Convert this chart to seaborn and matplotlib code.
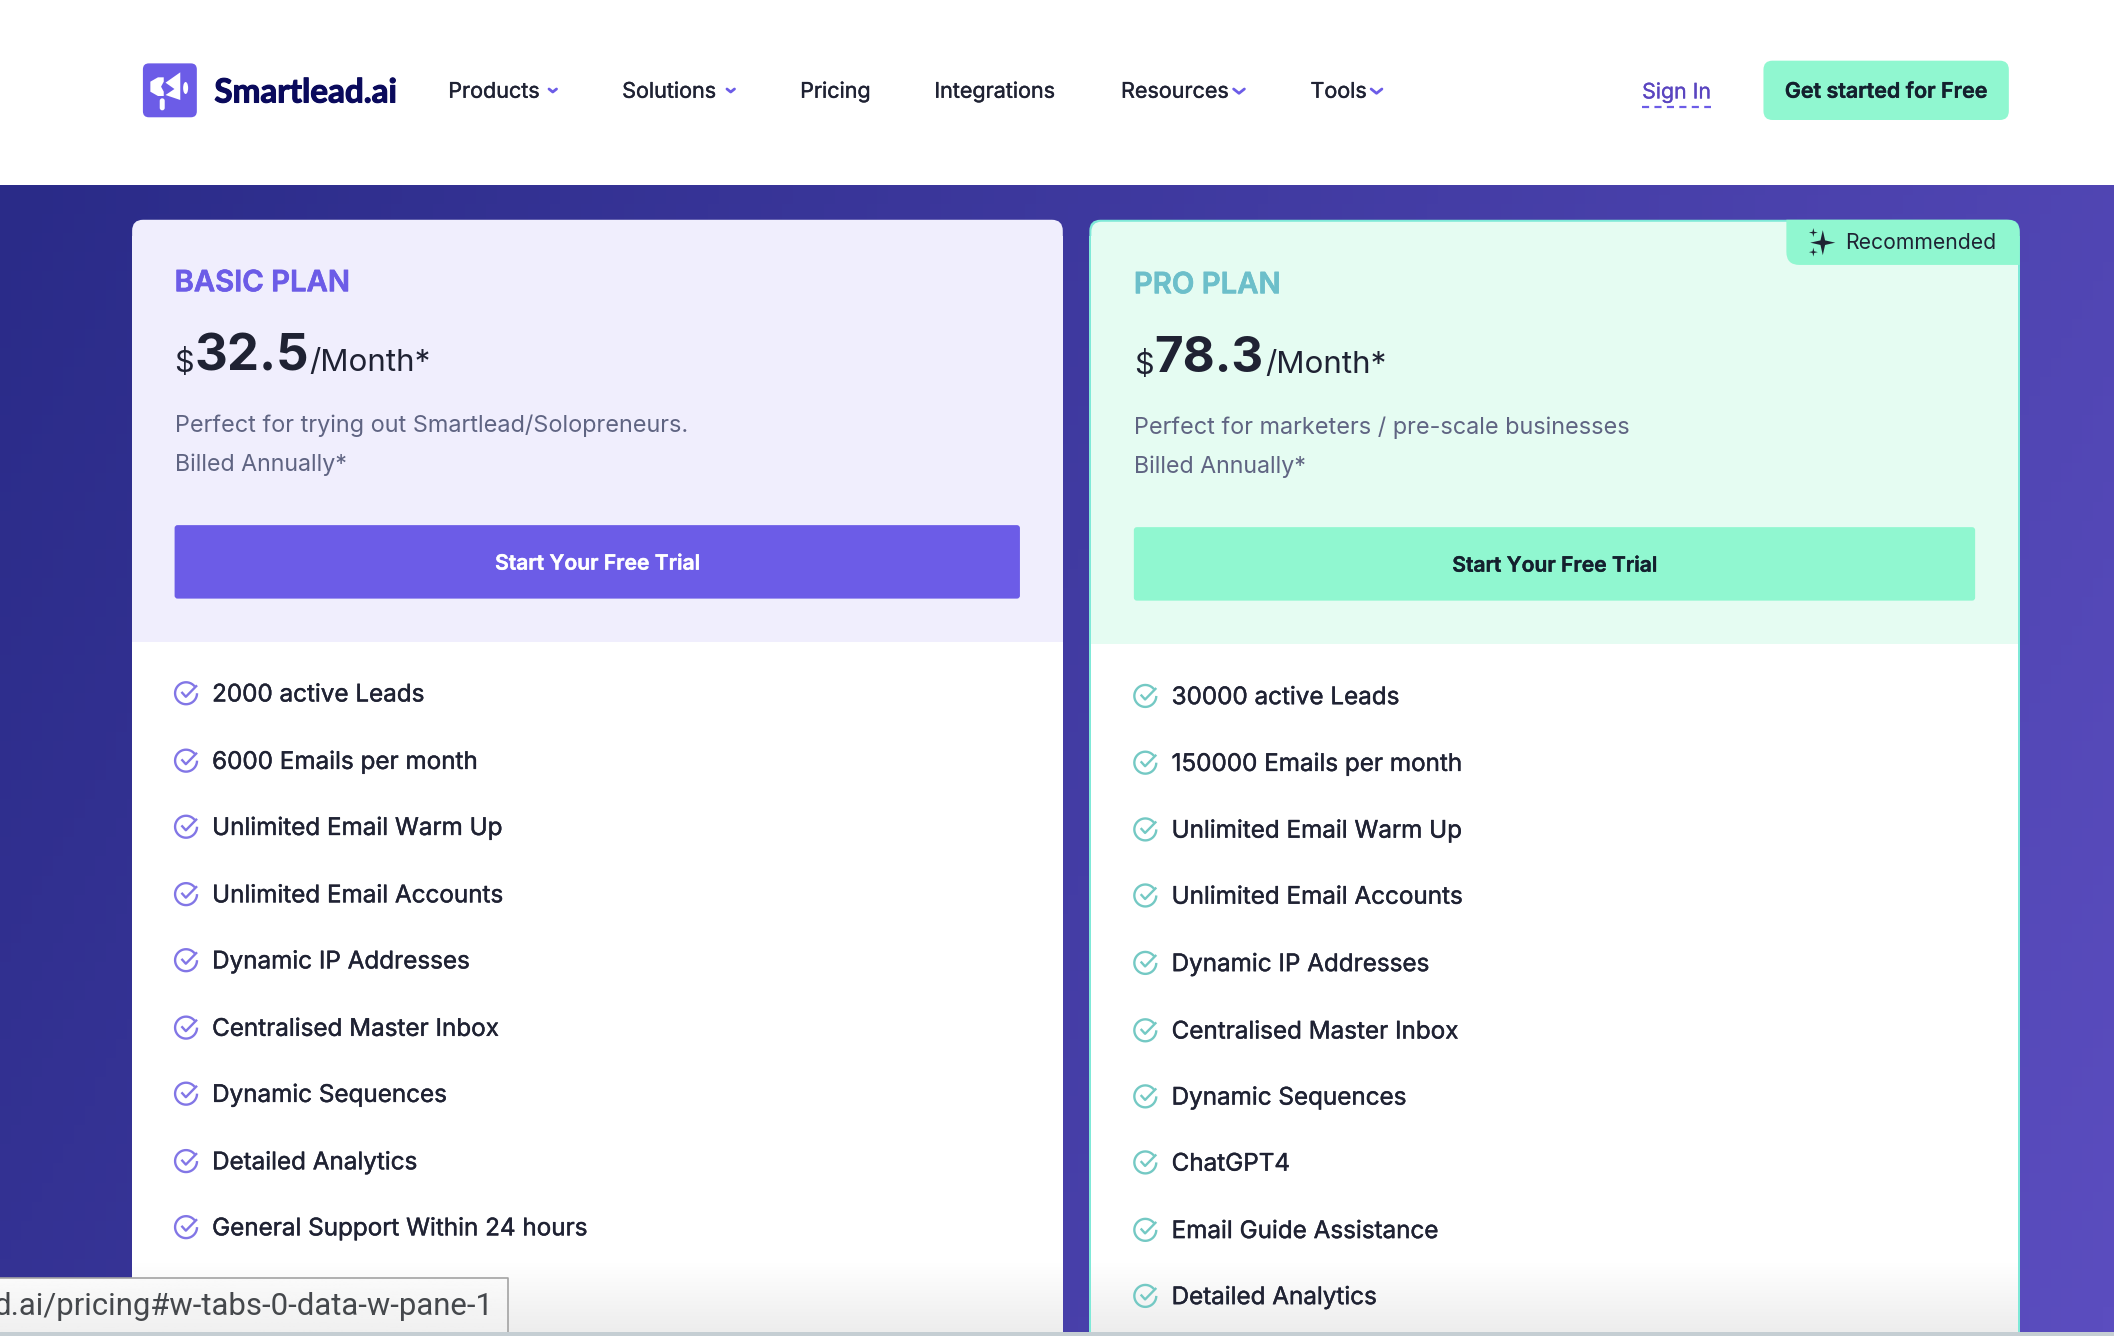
import numpy as np
import pandas as pd
import seaborn as sns
import matplotlib
matplotlib.use("Agg")
import matplotlib.pyplot as plt
from matplotlib.patches import FancyBboxPatch, Rectangle, Polygon, Ellipse, PathPatch
from matplotlib.path import Path
from matplotlib.colors import LinearSegmentedColormap
from matplotlib.markers import MarkerStyle
import matplotlib.patheffects as pe

# ---- content ----
nav_labels = ["Products", "Solutions", "Pricing", "Integrations", "Resources", "Tools"]
nav_x = [332.5, 461.5, 593.5, 693, 831.5, 972]
nav_chevrons = [410, 542, 919, 1021]
plan_names = ["BASIC PLAN", "PRO PLAN"]
plan_prices = ["32.5", "78.3"]
plan_desc = ["Perfect for trying out Smartlead/Solopreneurs.", "Perfect for marketers / pre-scale businesses"]
basic_features = ["2000 active Leads", "6000 Emails per month", "Unlimited Email Warm Up",
                  "Unlimited Email Accounts", "Dynamic IP Addresses", "Centralised Master Inbox",
                  "Dynamic Sequences", "Detailed Analytics", "General Support Within 24 hours"]
pro_features = ["30000 active Leads", "150000 Emails per month", "Unlimited Email Warm Up",
                "Unlimited Email Accounts", "Dynamic IP Addresses", "Centralised Master Inbox",
                "Dynamic Sequences", "ChatGPT4", "Email Guide Assistance", "Detailed Analytics"]
basic_rows = [514, 564, 613, 663, 712, 762, 811, 861, 910]
pro_rows = [516, 565.5, 615, 664, 714, 764, 813, 862, 912, 961]

S = 2114 / 1568
PURPLE = "#6c5ce7"; MINT = "#90f7d0"; INK = "#1f2233"; GREY = "#5f6482"; TEAL = "#6cbfca"

sns.set_theme(style="white")
plt.rcParams["font.family"] = ["Inter", "DejaVu Sans"]

fig = plt.figure(figsize=(21.14, 13.36), dpi=100)
ax = fig.add_axes([0, 0, 1, 1])
ax.set_xlim(0, 2114); ax.set_ylim(1336, 0); ax.axis("off")

def rect(x0, y0, x1, y1, color, z=1, r=0, **kw):
    if r:
        p = FancyBboxPatch((x0 * S + r, y0 * S + r), (x1 - x0) * S - 2 * r, (y1 - y0) * S - 2 * r,
                           boxstyle=f"round,pad={r},rounding_size={r}", fc=color, ec="none", zorder=z, **kw)
    else:
        p = Rectangle((x0 * S, y0 * S), (x1 - x0) * S, (y1 - y0) * S, fc=color, ec="none", zorder=z, **kw)
    ax.add_patch(p)
    return p

def label(x, y, s, size, color=INK, weight="normal", ha="left", width=None, z=6, family=None, stroke=0):
    t = ax.text(x * S, y * S, s, fontsize=size, color=color, fontweight=weight, ha=ha, va="baseline", zorder=z)
    if family:
        t.set_fontfamily(family)
    if stroke:
        t.set_path_effects([pe.withStroke(linewidth=stroke, foreground=color)])
    if width:
        w = t.get_window_extent(fig.canvas.get_renderer()).width
        t.set_fontsize(size * width * S / w)
    return t

# background
yy, xx = np.mgrid[0:1:120j, 0:1:200j]
grad = np.clip(0.78 * xx + 0.22 * yy, 0, 1)
cmap = LinearSegmentedColormap.from_list("bg", ["#2a2b88", "#5b4dbf"])
ax.imshow(grad, cmap=cmap, extent=(0, 2114, 1336, 185), aspect="auto", zorder=0, vmin=0, vmax=1)
ax.set_xlim(0, 2114); ax.set_ylim(1336, 0)
rect(0, 0, 1568, 137.2, "white", z=1)

# cards
rect(98, 163, 788.3, 300, "#f0eefd", z=2, r=11)
rect(98, 175, 788.3, 476, "#f0eefd", z=2)
rect(98, 476, 788.3, 995, "white", z=2)
rect(808, 163, 1498, 300, "#7fe9d8", z=2, r=11)
rect(808, 175, 1498, 995, "#7fe9d8", z=2)
rect(809.5, 164.5, 1496.5, 300, "#e5fcf2", z=2, r=10)
rect(809.5, 175, 1496.5, 478, "#e5fcf2", z=2)
rect(809.5, 478, 1496.5, 995, "white", z=2)

# recommended tab: square top-left and bottom-right, rounded top-right and bottom-left
tx0, tx1, ty0, ty1, tr = 1325 * S, 1498 * S, 163 * S, 196.5 * S, 13
tab = Path([(tx0, ty0), (tx1 - tr, ty0), (tx1, ty0), (tx1, ty0 + tr), (tx1, ty1), (tx0 + tr, ty1),
            (tx0, ty1), (tx0, ty1 - tr), (tx0, ty0)],
           [Path.MOVETO, Path.LINETO, Path.CURVE3, Path.CURVE3, Path.LINETO, Path.LINETO,
            Path.CURVE3, Path.CURVE3, Path.CLOSEPOLY])
ax.add_patch(PathPatch(tab, fc=MINT, ec="none", zorder=3))
label(1368.5, 184.5, "Recommended", 15.5, INK, width=112)

# sparkle icon
def star(cx, cy, r, k=0.26):
    pts = []
    for i in range(8):
        a = np.pi / 4 * i
        rr = r if i % 2 == 0 else r * k
        pts.append((cx * S + rr * np.cos(a), cy * S + rr * np.sin(a)))
    ax.add_patch(Polygon(pts, closed=True, fc=INK, ec="none", zorder=6))
star(1352, 180, 12.5); star(1345, 172.5, 4.5); star(1345, 187, 4.5)

# logo
rect(106, 47, 146, 87, PURPLE, z=3, r=6)
def zl(px, py):
    return (120 + px / 2.24, 40 + py / 3)
ax.add_patch(Polygon([zl(102, 128), zl(135, 97), zl(135, 180), zl(102, 165), zl(122, 147)], fc="white", ec="none", zorder=4))
ax.add_patch(Ellipse(zl(147, 144), 5, 12, fc="white", ec="none", zorder=4))
ax.add_patch(Polygon([zl(98, 112), zl(85, 112), zl(68, 125), zl(68, 155), zl(85, 168), zl(98, 168), zl(98, 155), zl(92, 140), zl(98, 125)], fc="white", ec="none", zorder=4))
ax.add_patch(FancyBboxPatch(zl(89, 175), 5, 12, boxstyle="round,pad=0,rounding_size=2.5", fc="white", ec="none", zorder=4))
label(159, 76, "Smartlead.ai", 22, "#0a0a5c", weight="bold", width=135, family=["Lato", "DejaVu Sans"], stroke=0.8)

# nav
for x, s in zip(nav_x, nav_labels):
    label(x, 72.5, s, 15.5, INK, stroke=0.3)
for x, c in zip(nav_chevrons, [2.8, 2.8, 4, 4]):
    ax.plot(np.array([x - c, x, x + c]) * S, np.array([66, 66 + c * 0.8, 66]) * S, color=PURPLE, lw=2.0, zorder=6, solid_capstyle="round")
label(1218, 73, "Sign In", 15.5, "#5a45c0", width=51, stroke=0.2)
ax.plot(np.array([1218, 1269]) * S, np.array([79.5, 79.5]) * S, color=PURPLE, lw=1.6, ls=(0, (3.2, 2.4)), zorder=6)
rect(1308, 45, 1490, 89, MINT, z=3, r=9)
label(1399, 72.5, "Get started for Free", 15.5, "#14202e", weight=600, ha="center", width=150, stroke=0.3)

# plan headers
HEAD = [dict(x=129.5, dy=0, name_c=PURPLE, nw=130, num_x=144.5, num_w=85, per_x=229.5, per_w=90),
        dict(x=841, dy=1.5, name_c=TEAL, nw=109, num_x=856.5, num_w=81, per_x=938.5, per_w=90)]
for i, h in enumerate(HEAD):
    dy, x = h["dy"], h["x"]
    label(x, 216 + dy, plan_names[i], 20, h["name_c"], weight=600, width=h["nw"], stroke=0.5)
    label(x, 276 + dy, "$", 22, INK)
    label(h["num_x"], 274.5 + dy, plan_prices[i], 40, INK, weight="bold", width=h["num_w"])
    label(h["per_x"], 275 + dy, "/Month*", 24, INK, width=h["per_w"])
    label(x, 320.5 + dy, plan_desc[i], 17, GREY, width=381.5 if i == 0 else 368)
    label(x, 349 + dy, "Billed Annually*", 17, GREY, width=128)

# buttons
rect(129.5, 389.5, 756.5, 444, PURPLE, z=3, r=3)
label(443, 422.5, "Start Your Free Trial", 15.5, "white", weight=600, ha="center", width=152, stroke=0.3)
rect(841, 391, 1465, 445.5, MINT, z=3, r=3)
label(1153, 424, "Start Your Free Trial", 15.5, "#14202e", weight=600, ha="center", width=152, stroke=0.3)

# check icon marker (y up in marker space)
th = np.linspace(np.deg2rad(40), np.deg2rad(360), 40)
arc = np.c_[np.cos(th), np.sin(th)]
tick = np.array([[-0.42, 0.12], [-0.02, -0.32], [1.0, 0.72]])
verts = np.vstack([arc, tick])
codes = [Path.MOVETO] + [Path.LINETO] * (len(arc) - 1) + [Path.MOVETO, Path.LINETO, Path.LINETO]
CHECK = MarkerStyle(Path(verts, codes), fillstyle="none")

for xc, rows, col in [(138, basic_rows, "#8276e6"), (849.5, pro_rows, "#74c9c4")]:
    checks = pd.DataFrame({"x": [xc * S] * len(rows), "y": [(r + 0.2) * S for r in rows]})
    sns.scatterplot(data=checks, x="x", y="y", color=col, marker=CHECK, s=250, linewidth=1.7,
                    legend=False, ax=ax, zorder=5)
    pts = ax.collections[-1]
    pts.set_facecolor("none")
    pts.set_edgecolor(col)
    pts.set_linewidth(1.7)
ax.set_xlabel(""); ax.set_ylabel("")

for r, s in zip(basic_rows, basic_features):
    label(157.3, r + 6.3, s, 17.45, INK, stroke=0.3)
for r, s in zip(pro_rows, pro_features):
    label(869, r + 6.3, s, 17.45, INK, stroke=0.3)

# bottom fade, on the cards only
fade = np.linspace(0, 1, 60)[:, None]
fade_cmap = LinearSegmentedColormap.from_list("f", [(0.93, 0.93, 0.93, 0), (0.93, 0.93, 0.93, 1)])
ax.imshow(fade, cmap=fade_cmap, extent=(132, 1063, 1332, 1262), aspect="auto", zorder=2.5)
ax.imshow(fade, cmap=fade_cmap, extent=(1091, 2018, 1332, 1262), aspect="auto", zorder=2.5)
ax.set_xlim(0, 2114); ax.set_ylim(1336, 0)
rect(0, 988, 1568, 992, "#c5ced3", z=9)

# status tooltip
tip = np.linspace(0.98, 0.94, 40)[:, None]
ax.imshow(tip, cmap="gray", vmin=0, vmax=1, extent=(0, 508, 1332, 1278), aspect="auto", zorder=8)
ax.set_xlim(0, 2114); ax.set_ylim(1336, 0)
ax.plot([0, 508, 508], [1278, 1278, 1332], color="#a3a3a3", lw=1.2, zorder=8.5)
t = ax.text(366 * S, 975.5 * S, "d.ai/pricing#w-tabs-0-data-w-pane-1", fontsize=22.4, color="#45484c", ha="right",
            va="baseline", zorder=9, family=["Roboto", "DejaVu Sans"])

fig.savefig("out.png", dpi=100)
